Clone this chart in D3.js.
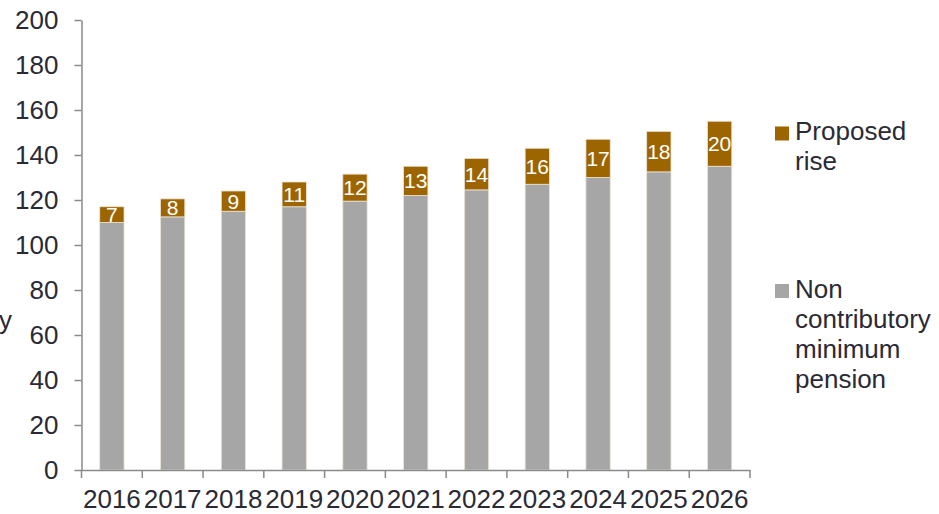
<!DOCTYPE html>
<html>
<head>
<meta charset="utf-8">
<script src="https://cdn.jsdelivr.net/npm/d3@7"></script>
<style>
  html, body { margin: 0; padding: 0; background: #fff; }
  svg { display: block; font-family: "Liberation Sans", Arial, sans-serif; }
</style>
</head>
<body>
<svg id="chart" width="939" height="514"></svg>
<script>
// Years shown on the category axis
const years = ["2016","2017","2018","2019","2020","2021","2022","2023","2024","2025","2026"];
// Non contributory minimum pension (base of each stack)
const basePension = [110, 112.5, 115, 117, 119.5, 122, 124.5, 127, 130, 132.5, 135];
// Proposed rise (top of each stack, also printed on the bar)
const proposedRise = [7, 8, 9, 11, 12, 13, 14, 16, 17, 18, 20];
// Value axis ticks
const yTicks = [0, 20, 40, 60, 80, 100, 120, 140, 160, 180, 200];
// Legend entries (top to bottom)
const legendItems = [
  { lines: ["Proposed", "rise"], key: "rise" },
  { lines: ["Non", "contributory", "minimum", "pension"], key: "base" }
];

const colors = { rise: "#9C6500", base: "#A6A6A6" };
const textColor = "#2a2a35";
const axisColor = "#8a8a8a";

const svg = d3.select("#chart");

const x = d3.scaleBand().domain(years).range([81.5, 750]).padding(0);
const y = d3.scaleLinear().domain([0, 200]).range([470, 20]);

const rows = years.map((yr, i) => ({ year: yr, base: basePension[i], rise: proposedRise[i] }));
const stack = d3.stack().keys(["base", "rise"]);
const series = stack(rows);

const barW = x.bandwidth() * 0.4;
const barX = d => x(d.data.year) + (x.bandwidth() - barW) / 2;

svg.append("g").selectAll("g")
  .data(series)
  .join("g")
  .attr("fill", s => colors[s.key])
  .selectAll("rect")
  .data(s => s)
  .join("rect")
  .attr("x", barX)
  .attr("width", barW)
  .attr("y", d => y(d[1]))
  .attr("height", d => y(d[0]) - y(d[1]))
  .attr("stroke", "#ece4d6")
  .attr("stroke-width", 0.8);

// Value labels centred in the rise segment
const riseSeries = series[1];
svg.append("g").selectAll("text")
  .data(riseSeries)
  .join("text")
  .attr("x", d => x(d.data.year) + x.bandwidth() / 2)
  .attr("y", d => (y(d[0]) + y(d[1])) / 2)
  .attr("dy", "0.36em")
  .attr("text-anchor", "middle")
  .attr("fill", "#ffffff")
  .attr("font-size", 21)
  .text(d => d.data.rise);

// Y axis
const yAxis = svg.append("g")
  .attr("transform", "translate(81.5,0)")
  .call(d3.axisLeft(y).tickValues(yTicks).tickSize(7).tickSizeOuter(0).tickPadding(16));
yAxis.select(".domain").attr("stroke", axisColor).attr("stroke-width", 1.5);
yAxis.selectAll(".tick line").attr("stroke", axisColor).attr("stroke-width", 1.5);
yAxis.selectAll(".tick text")
  .attr("fill", textColor)
  .attr("font-size", 26)
  .attr("font-family", "Liberation Sans, Arial, sans-serif");

// X axis: labels at band centres, tick marks at band boundaries
const xAxis = svg.append("g")
  .attr("transform", "translate(0,470)")
  .call(d3.axisBottom(x).tickSize(0).tickSizeOuter(0).tickPadding(20));
xAxis.select(".domain").attr("stroke", axisColor).attr("stroke-width", 1.5);
xAxis.selectAll(".tick text")
  .attr("fill", textColor)
  .attr("font-size", 26)
  .attr("font-family", "Liberation Sans, Arial, sans-serif");

const boundaries = years.map(d => x(d)).concat([x(years[years.length - 1]) + x.bandwidth()]);
xAxis.append("g").selectAll("line")
  .data(boundaries)
  .join("line")
  .attr("x1", d => d).attr("x2", d => d)
  .attr("y1", 0).attr("y2", 8)
  .attr("stroke", axisColor)
  .attr("stroke-width", 1.5);

// Axis title fragment at the left edge
svg.append("text")
  .attr("x", 12)
  .attr("y", 329)
  .attr("text-anchor", "end")
  .attr("fill", textColor)
  .attr("font-size", 26)
  .text("y");

// Legend
const legendTop = [140, 297.5];
const legend = svg.append("g");
legendItems.forEach((item, i) => {
  const g = legend.append("g");
  g.append("rect")
    .attr("x", 775).attr("y", legendTop[i] - 13.5)
    .attr("width", 14).attr("height", 14)
    .attr("fill", colors[item.key]);
  const t = g.append("text")
    .attr("x", 795).attr("y", legendTop[i])
    .attr("fill", textColor)
    .attr("font-size", 26);
  item.lines.forEach((ln, j) => {
    t.append("tspan").attr("x", 795).attr("dy", j === 0 ? 0 : 30.3).text(ln);
  });
});
</script>
</body>
</html>
